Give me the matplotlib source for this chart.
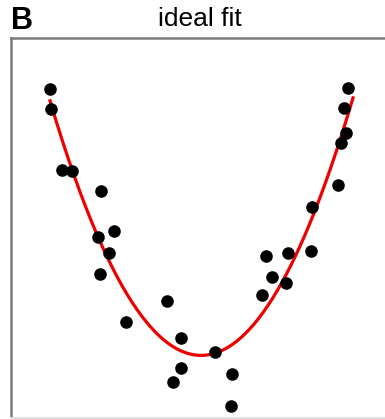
import numpy as np
import matplotlib
matplotlib.use("Agg")
import matplotlib.pyplot as plt

plt.rcParams['font.family'] = ['Liberation Sans', 'DejaVu Sans']

x_vals = [-3.00, -2.98, -2.76, -2.56, -1.98, -1.72, -2.04, -1.82, -2.00, -1.48,
          -0.66, -0.38, -0.38, -0.54, 0.30, 0.64, 0.62, 1.24, 1.32, 1.44,
          1.72, 1.76, 2.22, 2.24, 2.76, 2.82, 2.92, 2.88, 2.96]
y_vals = [8.66, 8.13, 6.53, 6.50, 5.97, 4.92, 4.76, 4.34, 3.79, 2.53,
          3.08, 2.11, 1.32, 0.95, 1.74, 1.16, 0.32, 3.24, 4.26, 3.71,
          3.55, 4.34, 4.39, 5.55, 6.13, 7.24, 7.50, 8.16, 8.68]
fit_range = [-3.0, 3.06]
title = "ideal fit"
panel = "B"

x = np.array(x_vals)
y = np.array(y_vals)
coef = np.polyfit(x, y, 2)
xs = np.linspace(fit_range[0], fit_range[1], 200)
ys = np.polyval(coef, xs)

W, H = 385, 419
fig = plt.figure(figsize=(W / 100, H / 100), dpi=100)
ax = fig.add_axes([11 / W, 1 / H, 379 / W, 380 / H])
ax.plot(xs, ys, color='#ee0000', lw=2.3, zorder=2)
ax.scatter(x, y, s=82, color='black', zorder=3, linewidths=0)
ax.set_xlim(-3.78, 3.8)
ax.set_ylim(0, 10)
ax.set_xticks([])
ax.set_yticks([])
for side in ['left', 'top']:
    ax.spines[side].set_color('#7a7a7a')
    ax.spines[side].set_linewidth(1.8)
ax.spines['bottom'].set_color('#e0e0e0')
ax.spines['bottom'].set_linewidth(1.5)
ax.spines['right'].set_visible(False)

fig.text(200 / W, 1 - 19 / H, title, ha='center', va='center', fontsize=19)
fig.text(11 / W, 1 - 21 / H, panel, ha='left', va='center', fontsize=22, fontweight='bold')

fig.savefig('out.png', dpi=100)
